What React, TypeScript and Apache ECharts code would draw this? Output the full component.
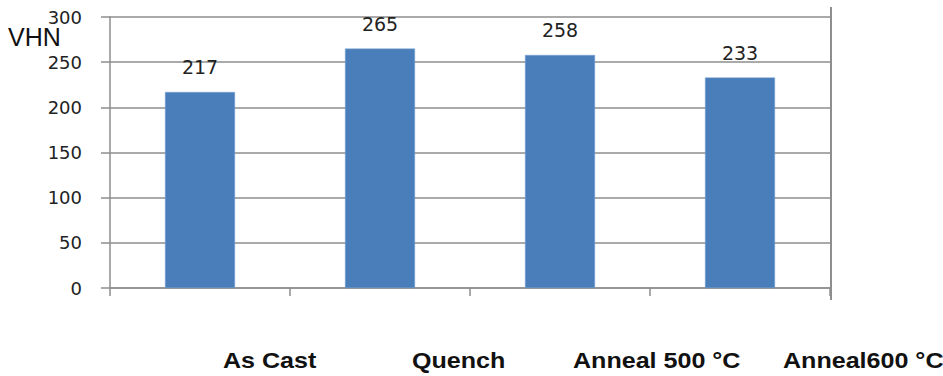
import React, { useEffect, useRef } from "react";
import * as echarts from "echarts";

const categories = ["As Cast", "Quench", "Anneal 500 °C", "Anneal600 °C"];
const hardness = [217, 265, 258, 233];
const yTicks = [0, 50, 100, 150, 200, 250, 300];
const yAxisTitle = "VHN";

const labelLeft = [223, 412, 573, 783];

export default function App() {
  const ref = useRef<HTMLDivElement>(null);
  useEffect(() => {
    if (!ref.current) return;
    const chart = echarts.init(ref.current, null, { renderer: "svg" });
    const gray = "#8e8e8e";
    chart.setOption({
      animation: false,
      backgroundColor: "#ffffff",
      grid: { left: 110, right: 113, top: 17, bottom: 88 },
      xAxis: {
        type: "category",
        data: categories,
        boundaryGap: true,
        axisLine: { show: true, lineStyle: { color: gray, width: 1.5 } },
        axisTick: { show: true, length: 8, alignWithLabel: false, lineStyle: { color: gray, width: 1.5 } },
        axisLabel: { show: false },
        splitLine: { show: false },
      },
      yAxis: {
        type: "value",
        min: yTicks[0],
        max: yTicks[yTicks.length - 1],
        interval: 50,
        axisLine: { show: true, lineStyle: { color: gray, width: 1.5 } },
        axisTick: { show: true, length: 9, lineStyle: { color: gray, width: 1.5 } },
        axisLabel: {
          margin: 28,
          color: "#222222",
          fontFamily: "DejaVu Sans",
          fontSize: 18,
        },
        splitLine: { show: true, lineStyle: { color: gray, width: 1.5 } },
      },
      series: [
        {
          type: "bar",
          data: hardness,
          barWidth: 70,
          itemStyle: { color: "#4a7ebb", borderColor: "#7aa0d0", borderWidth: 0.5 },
          label: {
            show: true,
            position: "top",
            distance: 15,
            color: "#222222",
            fontFamily: "DejaVu Sans",
            fontSize: 19,
          },
        },
      ],
      graphic: [
        {
          type: "text",
          x: 8,
          y: 37,
          style: {
            text: yAxisTitle,
            font: "25px 'Liberation Sans'",
            fill: "#111111",
            textAlign: "left",
            textVerticalAlign: "middle",
          },
        },
        {
          type: "line",
          shape: { x1: 831, y1: 7, x2: 831, y2: 300 },
          style: { stroke: gray, lineWidth: 2 },
        },
        ...categories.map((c, i) => ({
          type: "text",
          x: labelLeft[i],
          y: 361,
          scaleX: 1.14,
          style: {
            text: c,
            font: "bold 22px 'Liberation Sans'",
            fill: "#111111",
            textAlign: "left",
            textVerticalAlign: "middle",
          },
        })),
      ],
    });
    return () => chart.dispose();
  }, []);
  return <div ref={ref} style={{ width: 943, height: 376, position: "absolute", left: 0, top: 0 }} />;
}
